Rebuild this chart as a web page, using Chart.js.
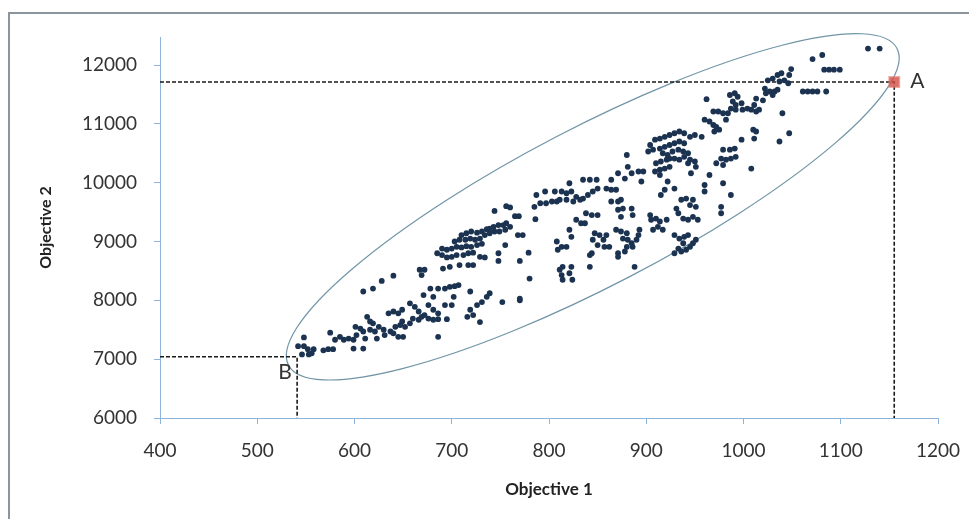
<!DOCTYPE html>
<html>
<head>
<meta charset="utf-8">
<script src="https://cdn.jsdelivr.net/npm/chart.js@4.4.1/dist/chart.umd.min.js"></script>
<style>
  html, body { margin: 0; padding: 0; background: #fff; }
  #chart_div { width: 969px; height: 519px; }
</style>
</head>
<body>
<div id="chart_div"><canvas id="myChart" width="969" height="519"></canvas></div>
<script>
// Objective 1 (x) and Objective 2 (y)
const objective1 = [
  548,542,548,552,558,546,553,556,568,573,578,575,580,585,589,594,599,599,602,601,
  606,609,611,609,613,616,619,616,621,625,623,630,631,637,640,645,650,642,647,649,
  652,657,660,635,640,645,649,657,662,666,669,672,666,676,681,686,695,681,686,676,
  693,700,686,609,619,628,640,
  744,756,760,765,769,787,796,806,785,791,797,803,808,786,768,773,755,748,748,779,770,780,808,809,811,
  710,715,720,726,731,736,739,743,748,753,756,760,
  703,708,714,719,724,729,734,739,744,749,755,
  690,695,700,705,710,715,720,726,731,
  685,690,695,700,705,712,717,722,729,734,
  691,698,708,717,722,
  667,672,669,
  678,686,693,698,703,707,
  671,681,702,719,736,
  739,752,731,726,719,722,716,729,770,770,
  904,909,914,919,924,929,934,939,945,950,
  902,907,914,919,924,929,934,939,
  917,922,927,933,938,943,
  910,915,921,924,929,934,939,945,950,
  909,914,919,924,914,943,946,951,
  922,929,919,915,
  880,881,885,892,897,895,871,878,864,859,864,869,864,871,874,876,871,874,885,886,
  835,842,849,850,845,840,835,828,823,818,813,821,811,818,825,832,
  838,844,850,828,833,837,821,823,813,818,
  847,852,859,856,845,850,857,862,844,842,
  869,874,880,876,881,885,880,886,892,893,890,878,871,871,
  904,905,910,914,921,907,912,917,
  931,936,941,948,945,951,933,938,943,948,953,
  929,934,939,943,938,933,936,941,945,948,951,929,
  888,842,814,823,813,821,824,814,
  962,986,991,994,989,992,998,987,992,999,1004,1008,1013,1016,1011,1013,1020,1023,1027,1032,
  1035,1030,1022,1025,1030,1035,1039,1037,1042,1046,1047,
  969,974,979,984,960,965,969,972,970,975,982,
  957,998,1010,1013,1011,1037,1047,1040,
  979,986,991,992,987,982,977,972,979,
  1008,965,960,979,960,987,977,977,
  1128,1140,1071,1081,1083,1088,1093,1099,1061,1066,1071,1076,1085,1049
];
const objective2 = [
  7370,7220,7220,7170,7170,7080,7080,7100,7150,7170,7170,7450,7330,7380,7330,7350,7330,7180,7410,7550,
  7520,7470,7350,7180,7720,7640,7610,7500,7470,7550,7350,7500,7410,7470,7440,7380,7380,7550,7580,7640,
  7550,7610,7690,7780,7810,7780,7840,7950,7890,7810,7720,7750,7670,7690,7670,7680,7680,7840,7780,7920,
  7920,7920,7380,8150,8200,8330,8420,
  9520,9600,9580,9430,9430,9790,9850,9850,9590,9650,9650,9680,9680,9380,9110,9110,8940,8800,8670,8810,8670,8370,9000,8860,8520,
  9110,9140,9170,9150,9170,9210,9220,9250,9280,9280,9310,9250,
  9000,9030,9030,9050,9030,9050,9110,9140,9170,9170,9200,
  8880,8860,8880,8910,8900,8920,8910,8940,8960,
  8800,8770,8730,8740,8770,8770,8800,8810,8740,8730,
  8540,8570,8600,8600,8600,
  8520,8520,8430,
  8200,8200,8200,8230,8240,8260,
  8090,8060,8060,8150,8060,
  8120,7970,7970,7920,7840,7750,7720,7630,8000,8030,
  10640,10730,10750,10780,10810,10840,10870,10840,10780,10810,
  10530,10560,10580,10610,10640,10670,10700,10670,
  10500,10470,10530,10560,10530,10500,
  10330,10360,10390,10410,10410,10390,10440,10390,10360,
  10190,10220,10240,10270,10130,10330,10160,10270,
  10020,9900,9880,9790,
  10470,10270,10160,10190,10190,10020,10160,10070,10050,9900,9880,9880,9680,9680,9710,9560,9540,9420,9560,9450,
  10050,10050,10050,9900,9850,9790,9730,9760,9850,9820,9850,9990,9710,9710,9680,9710,
  9480,9450,9450,9370,9310,9310,9200,9080,8910,8910,
  9140,9110,9110,9030,9030,8940,8910,8910,8800,8770,
  9200,9170,9140,9050,9030,8970,8910,8910,9110,9200,9030,8830,8800,8740,
  9450,9370,9390,9340,9370,9200,9250,9200,
  9560,9710,9730,9710,9620,9590,9480,9390,9370,9420,9370,
  9110,9050,9080,9110,8970,8880,8830,8860,8910,8970,9030,8800,
  8570,8570,8570,8570,8430,8460,8350,8350,
  11420,11490,11520,11460,11380,11320,11350,11260,11240,11240,11260,11240,11210,11240,11320,11430,11400,11520,11550,11550,
  11580,11490,11600,11740,11770,11830,11860,11720,11740,11690,11830,
  11210,11210,11180,11180,11070,11040,10980,10950,10870,10900,11070,
  10780,10730,10900,10870,10750,10700,10840,11180,
  10560,10560,10580,10440,10410,10390,10410,10330,10300,
  10240,10130,9960,9990,9850,9790,9590,9480,
  12280,12280,12100,12170,11920,11920,11920,11920,11550,11550,11550,11550,11550,11930
];

// the two marked solutions
const pointNames = ["A", "B"];
const pointX = [1155, 541];
const pointY = [11710, 7040];

const xTicks = [400, 500, 600, 700, 800, 900, 1000, 1100, 1200];
const yTicks = [6000, 7000, 8000, 9000, 10000, 11000, 12000];

// ellipse drawn round the cloud (centre in data units, radii in pixels)
const ring = { cx: 845, cy: 9590, rx: 343, ry: 79, angle: -27.5 };

const axisColor = "#8fb4d9";
const labelFont = "Lato";

let points = objective1.map((x, i) => ({ x: x, y: objective2[i] }));

function guide(i) {
  return [
    { x: xTicks[0], y: pointY[i] },
    { x: pointX[i], y: pointY[i] },
    { x: pointX[i], y: yTicks[0] }
  ];
}

const framePlugin = {
  id: "frame",
  beforeDraw(chart) {
    const c = chart.ctx;
    c.save();
    c.fillStyle = "#ffffff";
    c.fillRect(0, 0, chart.width, chart.height);
    c.strokeStyle = "#8d959c";
    c.lineWidth = 2;
    c.beginPath();
    c.moveTo(9, chart.height + 5);
    c.lineTo(9, 13);
    c.lineTo(chart.width + 5, 13);
    c.stroke();
    c.restore();
  }
};

const ringPlugin = {
  id: "ring",
  beforeDatasetsDraw(chart) {
    const c = chart.ctx;
    const sx = chart.scales.x, sy = chart.scales.y;
    c.save();
    c.strokeStyle = "rgba(96,136,156,0.9)";
    c.lineWidth = 1.2;
    c.beginPath();
    c.ellipse(sx.getPixelForValue(ring.cx), sy.getPixelForValue(ring.cy),
      ring.rx, ring.ry, ring.angle * Math.PI / 180, 0, 2 * Math.PI);
    c.stroke();
    c.restore();
  },
  afterDatasetsDraw(chart) {
    const c = chart.ctx;
    const sx = chart.scales.x, sy = chart.scales.y;
    c.save();
    c.fillStyle = "#333";
    c.font = "21px " + labelFont;
    c.textBaseline = "middle";
    // A to the right of its marker, B below-left of the corner
    c.textAlign = "left";
    c.fillText(pointNames[0], sx.getPixelForValue(pointX[0]) + 16, sy.getPixelForValue(pointY[0]) - 1);
    c.textAlign = "center";
    c.fillText(pointNames[1], sx.getPixelForValue(pointX[1]) - 12, sy.getPixelForValue(pointY[1]) + 15);
    c.restore();
  }
};

new Chart(document.getElementById("myChart"), {
  type: "scatter",
  data: {
    datasets: [
      {
        label: "A",
        data: [{ x: pointX[0], y: pointY[0] }],
        pointStyle: "rect",
        pointRadius: 7,
        backgroundColor: "rgba(210,78,66,0.8)",
        borderColor: "rgba(225,120,110,0.6)",
        borderWidth: 2,
        order: 0
      },
      {
        label: "solutions",
        data: points,
        pointRadius: 2.9,
        backgroundColor: "#1b3350",
        borderColor: "#1b3350",
        borderWidth: 0,
        order: 1
      },
      {
        label: "guide A",
        data: guide(0),
        showLine: true,
        pointRadius: 0,
        borderColor: "#1a1a1a",
        borderWidth: 1.6,
        borderDash: [4, 2],
        order: 2
      },
      {
        label: "guide B",
        data: guide(1),
        showLine: true,
        pointRadius: 0,
        borderColor: "#1a1a1a",
        borderWidth: 1.6,
        borderDash: [4, 2],
        order: 2
      }
    ]
  },
  options: {
    responsive: false,
    animation: false,
    events: [],
    layout: { padding: { left: 0, top: 37, right: 31, bottom: 0 } },
    plugins: {
      legend: { display: false },
      tooltip: { enabled: false }
    },
    scales: {
      x: {
        type: "linear",
        min: 400,
        max: 1200,
        afterBuildTicks: (s) => { s.ticks = xTicks.map(v => ({ value: v })); },
        afterFit: (s) => { s.height = 101; s.paddingLeft = 0; s.paddingRight = 0; },
        border: { color: axisColor, width: 1 },
        grid: { drawOnChartArea: false, drawTicks: true, tickLength: 6, color: axisColor },
        ticks: {
          color: "#333",
          font: { family: labelFont, size: 19 },
          padding: 15,
          maxRotation: 0,
          callback: (v) => String(v)
        },
        title: {
          display: true,
          text: "Objective 1",
          color: "#222",
          font: { family: labelFont, size: 17, weight: "bold" },
          padding: { top: 0, bottom: 19 }
        }
      },
      y: {
        type: "linear",
        min: 6000,
        max: 12476,
        afterBuildTicks: (s) => { s.ticks = yTicks.map(v => ({ value: v })); },
        afterFit: (s) => { s.width = 160; s.paddingTop = 0; s.paddingBottom = 0; },
        border: { color: axisColor, width: 1 },
        grid: { drawOnChartArea: false, drawTicks: true, tickLength: 6, color: axisColor },
        ticks: {
          color: "#333",
          font: { family: labelFont, size: 19 },
          padding: 17,
          callback: (v) => String(v)
        },
        title: {
          display: true,
          text: "Objective 2",
          color: "#222",
          font: { family: labelFont, size: 16, weight: "bold" },
          padding: { top: 36, bottom: 0 }
        }
      }
    }
  },
  plugins: [framePlugin, ringPlugin]
});
</script>
</body>
</html>
